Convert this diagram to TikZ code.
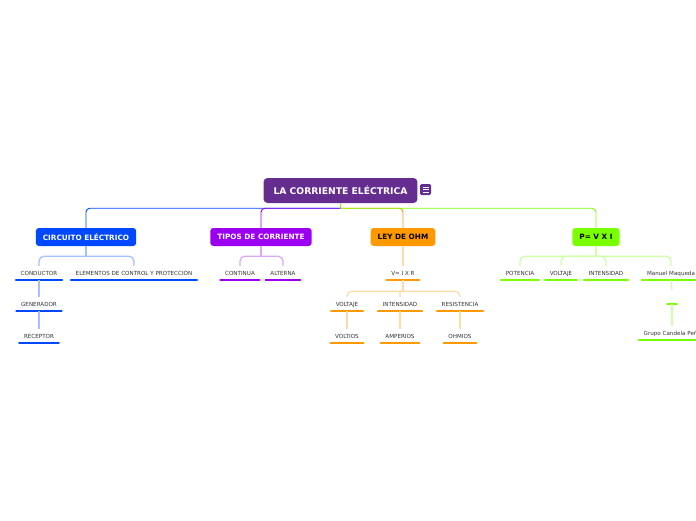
\documentclass[tikz,border=0pt]{standalone}
\usepackage{fontspec}
\setmainfont{DejaVu Sans}
\definecolor{rootc}{RGB}{102,45,145}
\definecolor{cblue}{RGB}{0,72,255}
\definecolor{cpurple}{RGB}{155,0,240}
\definecolor{corange}{RGB}{255,153,0}
\definecolor{cgreen}{RGB}{122,255,0}
\begin{document}
\begin{tikzpicture}[x=1pt,y=1pt,yscale=-1,
        topic/.style={rounded corners=3, inner xsep=7, minimum height=18, font=\fontsize{7.3}{8}\selectfont\bfseries},
        sub/.style={anchor=base, inner xsep=4.5, inner ysep=5, text height=4, text depth=0, text=black!80, font=\fontsize{5.6}{6}\selectfont,
                append after command={(\tikzlastnode.south west) edge[line width=2.5, line cap=round, #1] (\tikzlastnode.south east)}},
        link/.style={line width=0.9, rounded corners=4},
        sublink/.style={line width=1.3, rounded corners=5}]
        \useasboundingbox (0,0) rectangle (696,520);
        \node[fill=rootc, text=white, rounded corners=4, inner xsep=10, minimum height=25, font=\fontsize{9.2}{10}\selectfont\bfseries] (root) at (340.5,190.5) {LA CORRIENTE ELÉCTRICA};
        \node[fill=rootc, rounded corners=1.5, minimum size=11, inner sep=0] (menu) at (425.5,189.5) {};
        \draw[white, line width=0.7] (422.5,187) -- (428.5,187) (422.5,189.5) -- (428.5,189.5) (422.5,192) -- (428.5,192);
        \node[topic, fill=cblue, text=white] (circ) at (86,237) {CIRCUITO ELÉCTRICO};
        \node[topic, fill=cpurple, text=white] (tipos) at (261,237) {TIPOS DE CORRIENTE};
        \node[topic, fill=corange] (ohm) at (403,237) {LEY DE OHM};
        \node[topic, fill=cgreen] (pot) at (596,237) {P= V X I};
        \draw[link, cgreen] (root.south) -- ++(0,5);
        \draw[link, cblue] (root.south) ++(0,5) -| (circ.north);
        \draw[link, cpurple] (root.south) ++(0,5) -| (tipos.north);
        \draw[link, corange] (root.south) ++(0,5) -| (ohm.north);
        \draw[link, cgreen] (root.south) ++(0,5) -| (pot.north);
        \node[sub=cblue] (cond) at (39,275) {CONDUCTOR};
        \node[sub=cblue] (elem) at (134,275) {ELEMENTOS DE CONTROL Y PROTECCIÓN};
        \node[sub=cblue] (gen) at (39,306) {GENERADOR};
        \node[sub=cblue] (rec) at (39,338) {RECEPTOR};
        \draw[sublink, cblue!35] (circ.south) -- ++(0,10);
        \draw[sublink, cblue!35] (circ.south) ++(0,10) -| (cond.north);
        \draw[sublink, cblue!35] (circ.south) ++(0,10) -| (elem.north);
        \draw[sublink, cblue!35] (cond.south) -- (gen.north);
        \draw[sublink, cblue!35] (gen.south) -- (rec.north);
        \node[sub=cpurple] (cont) at (240,275) {CONTINUA};
        \node[sub=cpurple] (alt) at (283,275) {ALTERNA};
        \draw[sublink, cpurple!35] (tipos.south) -- ++(0,10);
        \draw[sublink, cpurple!35] (tipos.south) ++(0,10) -| (cont.north);
        \draw[sublink, cpurple!35] (tipos.south) ++(0,10) -| (alt.north);
        \node[sub=corange] (vir) at (403,275) {V= I X R};
        \node[sub=corange] (volt) at (347,306) {VOLTAJE};
        \node[sub=corange] (inte) at (400,306) {INTENSIDAD};
        \node[sub=corange] (resi) at (460,306) {RESISTENCIA};
        \node[sub=corange] (volts) at (347,338) {VOLTIOS};
        \node[sub=corange] (amp) at (400,338) {AMPERIOS};
        \node[sub=corange] (ohms) at (460,338) {OHMIOS};
        \draw[sublink, corange!35] (ohm.south) -- (vir.north);
        \draw[sublink, corange!35] (vir.south) -- ++(0,11);
        \draw[sublink, corange!35] (vir.south) ++(0,11) -| (volt.north);
        \draw[sublink, corange!35, rounded corners=1] (vir.south) ++(0,11) -| (inte.north);
        \draw[sublink, corange!35] (vir.south) ++(0,11) -| (resi.north);
        \draw[sublink, corange!35] (volt.south) -- (volts.north);
        \draw[sublink, corange!35] (inte.south) -- (amp.north);
        \draw[sublink, corange!35] (resi.south) -- (ohms.north);
        \node[sub=cgreen] (poten) at (520,275) {POTENCIA};
        \node[sub=cgreen] (pvolt) at (561,275) {VOLTAJE};
        \node[sub=cgreen] (pint) at (606,275) {INTENSIDAD};
        \node[sub=cgreen] (manu) at (671,275) {Manuel Maqueda};
        \node[sub=cgreen] (bar) at (672,299) {};
        \node[sub=cgreen, anchor=base west] (grupo) at (639,335) {Grupo Candela Peñ};
        \draw[sublink, cgreen!35] (pot.south) -- ++(0,10);
        \draw[sublink, cgreen!35] (pot.south) ++(0,10) -| (poten.north);
        \draw[sublink, cgreen!35] (pot.south) ++(0,10) -| (pvolt.north);
        \draw[sublink, cgreen!35] (pot.south) ++(0,10) -| (pint.north);
        \draw[sublink, cgreen!35] (pot.south) ++(0,10) -| (manu.north);
        \draw[sublink, cgreen!35] (manu.south) -- (bar.north);
        \draw[sublink, cgreen!35] (bar.south) -- (bar.south |- grupo.north);
\end{tikzpicture}
\end{document}
